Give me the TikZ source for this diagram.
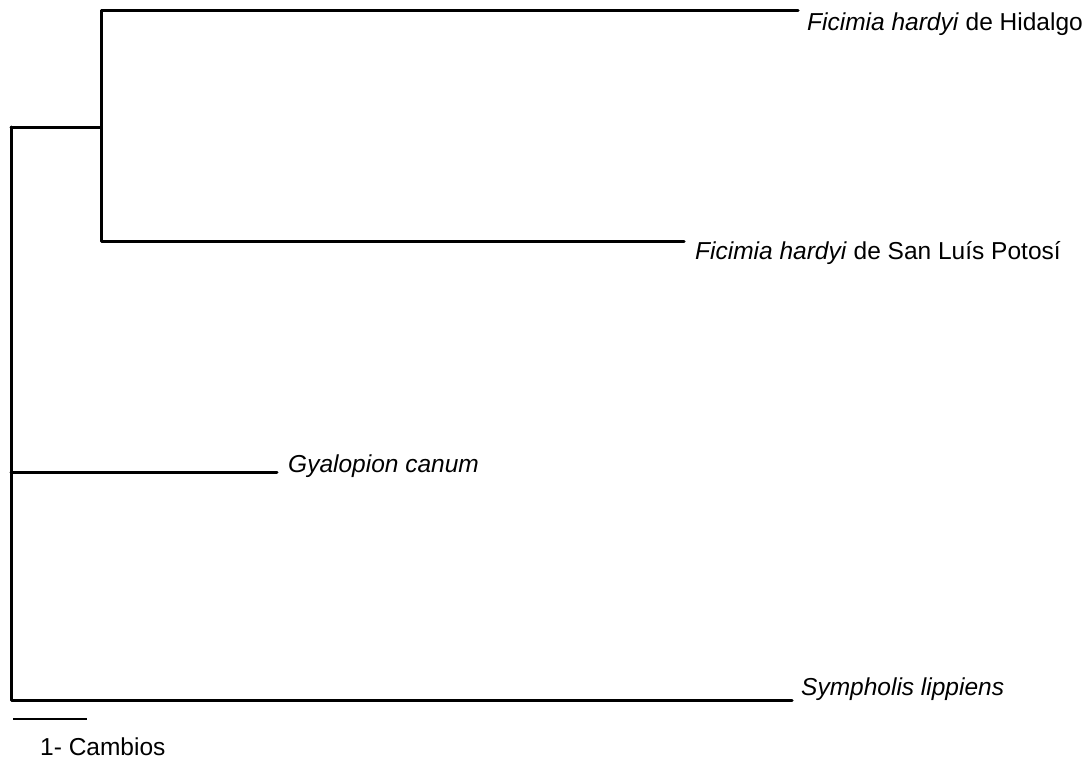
\documentclass[tikz,border=0pt]{standalone}
\usepackage{fontspec}
\setmainfont{Liberation Sans}
\begin{document}
\begin{tikzpicture}[x=1pt,y=-1pt,
  branch/.style={line width=3pt, line cap=round, line join=round},
  taxon/.style={anchor=base west, inner sep=0pt, font=\fontsize{24.5}{28}\selectfont},
  scalebar/.style={line width=1.8pt}]
\useasboundingbox (0,0) rectangle (1089,760);
% internal nodes
\coordinate (root) at (11,127);
\coordinate (inner) at (101,127);
% tips
\coordinate (tHid) at (798,11);
\coordinate (tSLP) at (684,241);
\coordinate (tGya) at (277,472);
\coordinate (tSym) at (792,700);
% branches
\draw[branch] (inner) |- (tHid);
\draw[branch] (inner) |- (tSLP);
\draw[branch] (root) -- (inner);
\draw[branch] (root) |- (tSym);
\draw[branch] (root |- tGya) -- (tGya);
% labels
\node[taxon] (lHid) at (807,31) {\textit{Ficimia hardyi} de Hidalgo};
\node[taxon] (lSLP) at (695,259) {\textit{Ficimia hardyi} de San Luís Potosí};
\node[taxon] (lGya) at (288,472) {\textit{Gyalopion canum}};
\node[taxon] (lSym) at (801,695) {\textit{Sympholis lippiens}};
% scale
\coordinate (s1) at (13,719);
\coordinate (s2) at (87,719);
\draw[scalebar] (s1) -- (s2);
\node[taxon] (lScale) at (40,755) {1- Cambios};
\end{tikzpicture}
\end{document}
